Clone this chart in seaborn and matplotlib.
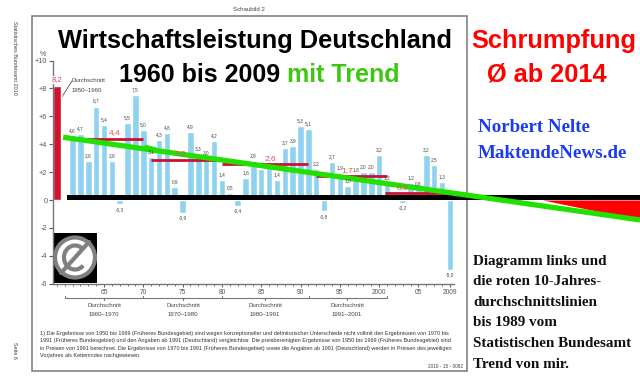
import matplotlib
matplotlib.use('Agg')
import matplotlib.pyplot as plt
from matplotlib.patches import Rectangle, Circle, Arc
import seaborn as sns

# growth per year
years = [1961, 1962, 1963, 1964, 1965, 1966, 1967, 1968, 1969, 1970,
         1971, 1972, 1973, 1974, 1975, 1976, 1977, 1978, 1979, 1980,
         1981, 1982, 1983, 1984, 1985, 1986, 1987, 1988, 1989, 1990,
         1991, 1992, 1993, 1994, 1995, 1996, 1997, 1998, 1999, 2000,
         2001, 2002, 2003, 2004, 2005, 2006, 2007, 2008, 2009]
growth = [4.6, 4.7, 2.8, 6.7, 5.4, 2.8, -0.3, 5.5, 7.5, 5.0,
          3.1, 4.3, 4.8, 0.9, -0.9, 4.9, 3.3, 3.0, 4.2, 1.4,
          0.5, -0.4, 1.6, 2.8, 2.2, 2.4, 1.4, 3.7, 3.9, 5.3,
          5.1, 2.2, -0.8, 2.7, 1.9, 1.0, 1.8, 2.0, 2.0, 3.2,
          1.2, 0.0, -0.2, 1.2, 0.8, 3.2, 2.5, 1.3, -5.0]
# these labels are lost under the 2,6 line in the original
no_label_years = [1985, 1986]
avg_1950s_year = [1959]
avg_1950s = [8.2]

avg_starts = [1962.4, 1971.0, 1980.0, 1992.0, 2000.8]
avg_ends = [1970.0, 1980.0, 1990.9, 2001.0, 2008.6]
avg_values = [4.4, 2.9, 2.6, 1.7, 0.5]
avg_labels = ['4,4', '2,9', '2,6', '1,7', '0,5']
avg_label_years = [1966.4, 1974.7, 1986.2, 1996.0, 2003.0]

trend_years = [1959.8, 2033.2]
trend_values = [4.5, -1.43]
band_years = [1960.3, 2033.2]
band_top = [0.36, 0.36]
wedge_years = [2020.8, 2033.2]
wedge_low = [0.0, -1.43]

major_years = [1965, 1970, 1975, 1980, 1985, 1990, 1995, 2000, 2005, 2009]
major_labels = ['65', '70', '75', '80', '85', '90', '95', '2000', '05', '2009']
y_ticks = [-6, -4, -2, 0, 2, 4, 6, 8, 10]
y_labels = ['-6', '-4', '-2', '0', '+2', '+4', '+6', '+8', '+10']

footnote = [
    '1) Die Ergebnisse von 1950 bis 1969 (Früheres Bundesgebiet) sind wegen konzeptioneller und definitorischer Unterschiede nicht vollmit den Ergebnissen von 1970 bis',
    '1991 (Früheres Bundesgebiet) und den Angaben ab 1991 (Deutschland) vergleichbar. Die preisbereinigten Ergebnisse von 1950 bis 1969 (Früheres Bundesgebiet) sind',
    'in Preisen von 1991 berechnet. Die Ergebnisse von 1970 bis 1991 (Früheres Bundesgebiet) sowie die Angaben ab 1991 (Deutschland) werden in Preisen des jeweiligen',
    'Vorjahres als Kettenindex nachgewiesen.',
]
notes = ['Diagramm links und', 'die roten 10-Jahres-', 'durchschnittslinien', 'bis 1989 vom',
         'Statistischen Bundesamt', 'Trend von mir.']

sns.set_style('white')
plt.rcParams['font.family'] = ['Liberation Sans', 'DejaVu Sans']

fig = plt.figure(figsize=(6.4, 3.81), dpi=100)

# overlay in pixels for the page furniture
page = fig.add_axes([0, 0, 1, 1])
page.set_xlim(0, 640)
page.set_ylim(381, 0)
page.axis('off')

ax = fig.add_axes([0, 0, 1, 1])
ax.patch.set_alpha(0)

sns.barplot(x=years, y=growth, native_scale=True, width=0.83, color='#8ed2f0', saturation=1, ax=ax)
sns.barplot(x=avg_1950s_year, y=avg_1950s, native_scale=True, width=0.95, color='#cf1430', saturation=1, ax=ax)

for yr, val in zip(years, growth):
    if val == 0 or yr in no_label_years:
        continue
    txt = f'{val:.1f}'.replace('.', ',')
    off = 2 if val > 0 else -2
    ax.annotate(txt, (yr, val), xytext=(0, off), textcoords='offset points', ha='center',
                va='bottom' if val > 0 else 'top', fontsize=3.4, color='#444444')

for start, end, val in zip(avg_starts, avg_ends, avg_values):
    ax.plot([start, end], [val, val], color='#cc1030', lw=2.0, solid_capstyle='butt')
for x, val, lab in zip(avg_label_years, avg_values, avg_labels):
    ax.annotate(lab, (x, val), xytext=(0, 1.5), textcoords='offset points', ha='center', va='bottom',
                fontsize=6, color='#e0505f')
ax.annotate('8,2', (avg_1950s_year[0], avg_1950s[0]), xytext=(0, 1.5), textcoords='offset points',
            ha='center', va='bottom', fontsize=5.5, color='#e0404f',
            bbox=dict(fc='white', ec='none', pad=0.6))

ax.fill_between(band_years, 0, band_top, color='black', lw=0)
ax.fill_between(wedge_years, 0, wedge_low, color='#ff0000', lw=0)
sns.lineplot(x=trend_years, y=trend_values, color='#22e000', lw=3.8, ax=ax, legend=False,
             solid_capstyle='butt')
# little bump on the trend line, it is in the original
ax.plot([1970.1, 1971.6], [3.75, 3.55], color='#22e000', lw=4.5, solid_capstyle='butt')

# same pixel mapping as the reference: x = 104 + 7.86*(yr-1965), y = 200 - 13.95*v
ax.set_xlim(1965 - 104 / 7.86, 1965 + 536 / 7.86)
ax.set_ylim(-181 / 13.95, 200 / 13.95)

for side in ['top', 'right']:
    ax.spines[side].set_visible(False)
ax.spines['left'].set_position(('data', 1958.5))
ax.spines['left'].set_bounds(-6, 10)
ax.spines['bottom'].set_position(('data', -6))
ax.spines['bottom'].set_bounds(1958.5, 2009.5)
for side in ['left', 'bottom']:
    ax.spines[side].set_color('#777777')
    ax.spines[side].set_linewidth(1.0)

ax.set_yticks(y_ticks, y_labels)
ax.set_xticks(major_years, major_labels)
ax.set_xticks(range(1959, 2010), minor=True)
ax.tick_params(axis='y', left=True, length=3, width=0.8, color='#555555', labelsize=5.2,
               labelcolor='#555555', pad=1)
ax.tick_params(axis='x', which='major', bottom=True, length=2, direction='out', width=0.7, color='#555555',
               labelsize=4.8, labelcolor='#555555', pad=2)
ax.tick_params(axis='x', which='minor', bottom=True, length=1.5, width=0.6, color='#555555')
ax.set_xlabel('')
ax.set_ylabel('')

# frame and margin texts
page.add_patch(Rectangle((32, 16), 435, 355, fc='white', ec='#777777', lw=1.1))
page.text(249, 9.5, 'Schaubild 2', fontsize=4.4, color='#444444', ha='center', va='center')
page.text(14, 58, 'Statistisches Bundesamt 2010', fontsize=4.0, color='#444444', rotation=-90, ha='center', va='center')
page.text(14, 350, 'Seite 6', fontsize=4.0, color='#444444', rotation=-90, ha='center', va='center')
page.text(43, 55, '%', fontsize=5, color='#555555', ha='center', va='center')

# titles go above the chart
top = dict(transform=page.transData, zorder=10)
ax.text(58, 41, 'Wirtschaftsleistung Deutschland', fontsize=18.3, fontweight='bold', color='black', ha='left', va='center', **top)
ax.text(119, 75, '1960 bis 2009', fontsize=18, fontweight='bold', color='black', ha='left', va='center', **top)
ax.text(287, 75, 'mit Trend', fontsize=18, fontweight='bold', color='#3cc810', ha='left', va='center', **top)
page.text(471, 41, 'Schrumpfung', fontsize=18.3, fontweight='bold', color='#ff0000', ha='left', va='center')
page.text(487, 74, 'Ø ab 2014', fontsize=18.3, fontweight='bold', color='#ff0000', ha='left', va='center')
page.text(478, 128, 'Norbert Nelte', fontsize=13.6, fontweight='bold', family='Liberation Serif', color='#1a3cf0', ha='left', va='center')
page.text(478, 154, 'MaktendeNews.de', fontsize=13.7, fontweight='bold', family='Liberation Serif', color='#1a3cf0', ha='left', va='center')
for i, line in enumerate(notes):
    page.text(473, 261 + i * 20.6, line, fontsize=10.9, fontweight='bold', family='Liberation Serif', color='#111111', ha='left', va='center')

# connector and label of the 1950s average
page.plot([60, 72], [100, 81], color='#555555', lw=0.6, zorder=5)
page.text(72, 81, 'Durchschnitt', fontsize=4.4, color='#444444', ha='left', va='center')
page.text(72, 90, '1950–1960', fontsize=4.4, color='#444444', ha='left', va='center')

# brackets under the axis
page.plot([65, 387], [298, 298], color='#777777', lw=0.8)
for px in [65, 143, 222, 309, 387]:
    page.plot([px, px], [295.5, 298], color='#777777', lw=0.8)
for px, label in zip([104, 183, 265, 347], ['1960–1970', '1970–1980', '1980–1991', '1991–2001']):
    page.plot([px, px], [298, 300], color='#777777', lw=0.8)
    page.text(px, 305.5, 'Durchschnitt', fontsize=4.4, color='#444444', ha='center', va='center')
    page.text(px, 314, label, fontsize=4.4, color='#444444', ha='center', va='center')

for i, line in enumerate(footnote):
    page.text(40, 333 + i * 7.6, line, fontsize=3.95, color='#333333', ha='left', va='center')
page.text(463, 366, '2010 - 15 - 0082', fontsize=3.4, color='#444444', ha='right', va='center')

# public domain icon
page.add_patch(Rectangle((53, 233), 44, 50, fc='black', ec='none', zorder=3))
page.add_patch(Circle((75, 257.5), 20, fc='white', ec='#808080', lw=3, zorder=4))
page.add_patch(Arc((75, 257.5), 22, 24, theta1=45, theta2=315, ec='#808080', lw=3, zorder=5))
page.plot([61, 89], [273, 242], color='#808080', lw=3, zorder=6)

fig.savefig('out.png', dpi=100)
